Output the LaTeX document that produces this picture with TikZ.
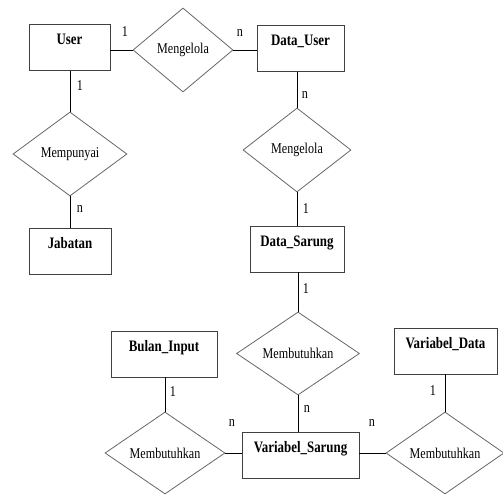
\documentclass[tikz,border=0pt]{standalone}
\usepackage{fontspec}
\setmainfont{Liberation Serif}[FakeStretch=0.81]
\usetikzlibrary{shapes.geometric}

\begin{document}
\begin{tikzpicture}[x=1bp,y=-1bp,
  ent/.style={rectangle,draw=black!75,line width=0.9bp,minimum height=46bp,inner ysep=6bp,text height=14bp,text depth=20bp,font=\bfseries\fontsize{16}{18}\selectfont},
  rel/.style n args={2}{diamond,draw=black!60,line width=0.8bp,inner sep=0pt,minimum width=#1bp,minimum height=#2bp,font=\fontsize{15}{17}\selectfont},
  card/.style={inner sep=1pt,font=\fontsize{15}{17}\selectfont},
  lnk/.style={black,line width=0.8bp}]
\useasboundingbox (0,0) rectangle (503,495);
% entities
\node[ent,minimum width=81bp] (user) at (69.5,47.5) {User};
\node[ent,minimum width=87bp] (datauser) at (300.5,48.5) {Data\_User};
\node[ent,minimum width=82bp] (jabatan) at (70,251) {Jabatan};
\node[ent,minimum width=94bp] (datasarung) at (297,249) {Data\_Sarung};
\node[ent,minimum width=106bp] (bulan) at (164,354) {Bulan\_Input};
\node[ent,minimum width=103bp] (vardata) at (445.5,351) {Variabel\_Data};
\node[ent,minimum width=117bp] (varsarung) at (300.5,455.5) {Variabel\_Sarung};
% relations
\node[rel={100}{84}] (kelola1) at (183,50) {Mengelola};
\node[rel={108}{84}] (kelola2) at (297,150) {Mengelola};
\node[rel={114}{84}] (punya) at (70,154) {Mempunyai};
\node[rel={123}{83}] (butuh1) at (298,353.5) {Membutuhkan};
\node[rel={120}{82}] (butuh2) at (165,453) {Membutuhkan};
\node[rel={118}{82}] (butuh3) at (445,453) {Membutuhkan};
% connectors
\draw[lnk] (kelola1.west -| user.east) -- (kelola1.west);
\draw[lnk] (kelola1.east) -- (kelola1.east -| datauser.west);
\draw[lnk] (user.south -| punya.north) -- (punya.north);
\draw[lnk] (punya.south) -- (jabatan.north -| punya.south);
\draw[lnk] (datauser.south -| kelola2.north) -- (kelola2.north);
\draw[lnk] (kelola2.south) -- (datasarung.north -| kelola2.south);
\draw[lnk] (datasarung.south -| butuh1.north) -- (butuh1.north);
\draw[lnk] (butuh1.south) -- (varsarung.north -| butuh1.south);
\draw[lnk] (bulan.south -| butuh2.north) -- (butuh2.north);
\draw[lnk] (butuh2.east) -- (butuh2.east -| varsarung.west);
\draw[lnk] (vardata.south -| butuh3.north) -- (butuh3.north);
\draw[lnk] (butuh3.west -| varsarung.east) -- (butuh3.west);
% cardinalities
\node[card] (c1) at (125,32) {1};
\node[card] (c2) at (240,33) {n};
\node[card] (c3) at (80,86) {1};
\node[card] (c4) at (80,209) {n};
\node[card] (c5) at (305,95) {n};
\node[card] (c6) at (306,209) {1};
\node[card] (c7) at (306,289) {1};
\node[card] (c8) at (307,409) {n};
\node[card] (c9) at (173,392) {1};
\node[card] (c10) at (232,423) {n};
\node[card] (c11) at (433,391) {1};
\node[card] (c12) at (372,423) {n};
\end{tikzpicture}
\end{document}
